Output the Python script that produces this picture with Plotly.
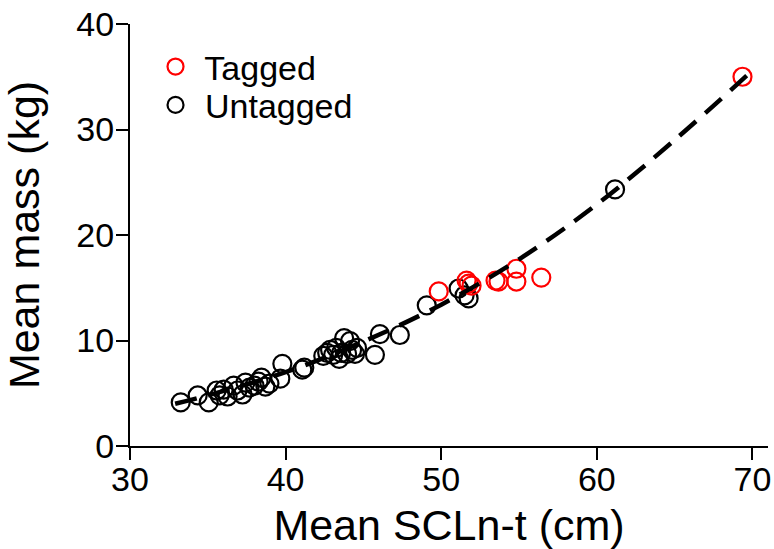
import plotly.graph_objects as go

# Tagged turtles
tagged_scl = [49.84, 51.63, 51.76, 51.95, 53.49, 53.68, 54.83, 54.83, 56.43, 69.36]
tagged_mass = [14.65, 15.68, 15.40, 15.20, 15.68, 15.59, 16.80, 15.59, 15.96, 35.0]

# Untagged turtles
untagged_scl = [33.26, 34.35, 35.06, 35.57, 35.76, 36.02, 36.27, 36.66, 36.91, 37.23,
                37.42, 37.68, 38.00, 38.26, 38.45, 38.70, 38.96, 39.66, 39.79, 41.07,
                41.20, 42.42, 42.67, 42.86, 43.06, 43.25, 43.44, 43.57, 43.76, 43.95,
                44.14, 44.27, 44.46, 44.59, 45.74, 46.06, 47.34, 49.07, 51.12, 51.50,
                51.76, 61.17]
untagged_mass = [4.13, 4.79, 4.13, 5.26, 4.79, 5.35, 4.69, 5.73, 5.26, 4.88,
                 6.01, 5.54, 5.73, 6.10, 6.48, 5.63, 5.92, 6.38, 7.79, 7.23,
                 7.42, 8.54, 8.83, 9.11, 8.64, 9.30, 8.26, 8.83, 10.23, 8.73,
                 9.95, 9.11, 8.73, 9.30, 8.64, 10.61, 10.52, 13.33, 14.93, 14.27,
                 13.99, 24.32]

# Fitted curve
fit_scl = [32.9, 35, 40, 45, 50, 55, 60, 65, 70]
fit_mass = [4.0, 4.8, 7.0, 9.9, 13.4, 17.7, 22.9, 29.0, 35.6]

FONT = "Liberation Sans, Arial, sans-serif"

fig = go.Figure()
fig.add_trace(go.Scatter(
    x=untagged_scl, y=untagged_mass, mode="markers", name=" Untagged",
    legend="legend2",
    marker=dict(symbol="circle-open", size=18, color="black", line=dict(width=2.2, color="black")),
))
fig.add_trace(go.Scatter(
    x=tagged_scl, y=tagged_mass, mode="markers", name=" Tagged",
    legend="legend",
    marker=dict(symbol="circle-open", size=18, color="red", line=dict(width=2.2, color="red")),
))
fig.add_trace(go.Scatter(
    x=fit_scl, y=fit_mass, mode="lines", showlegend=False,
    line=dict(color="black", width=4.5, dash="22px,12px", shape="spline"),
))

leg_common = dict(xanchor="left", yanchor="top", font=dict(size=34, family=FONT),
                  bgcolor="rgba(0,0,0,0)", itemsizing="trace")

fig.update_layout(
    width=776, height=549,
    margin=dict(l=130, r=5, t=23, b=100),
    paper_bgcolor="white", plot_bgcolor="white",
    font=dict(family=FONT, color="black"),
    showlegend=True,
    legend=dict(x=0.04, y=0.967, **leg_common),
    legend2=dict(x=0.04, y=0.876, **leg_common),
    xaxis=dict(range=[30, 71], tickvals=[30, 40, 50, 60, 70], showgrid=False, zeroline=False,
               showline=True, linecolor="black", linewidth=2,
               ticks="outside", ticklen=12, tickwidth=2, tickcolor="black",
               ticklabelstandoff=-10,
               tickfont=dict(size=34, family=FONT),
               title=dict(text="Mean SCLn-t (cm)", font=dict(size=43, family=FONT), standoff=16)),
    yaxis=dict(range=[0, 40], tickvals=[0, 10, 20, 30, 40], showgrid=False, zeroline=False,
               showline=True, linecolor="black", linewidth=2,
               ticks="outside", ticklen=12, tickwidth=2, tickcolor="black",
               ticklabelstandoff=-5,
               tickfont=dict(size=34, family=FONT),
               title=dict(text="Mean mass (kg)", font=dict(size=43, family=FONT), standoff=25)),
)

fig.write_html(
    "out.html",
    config={"displayModeBar": False},
    post_script="document.body.style.margin='0';document.body.style.overflow='hidden';",
)
